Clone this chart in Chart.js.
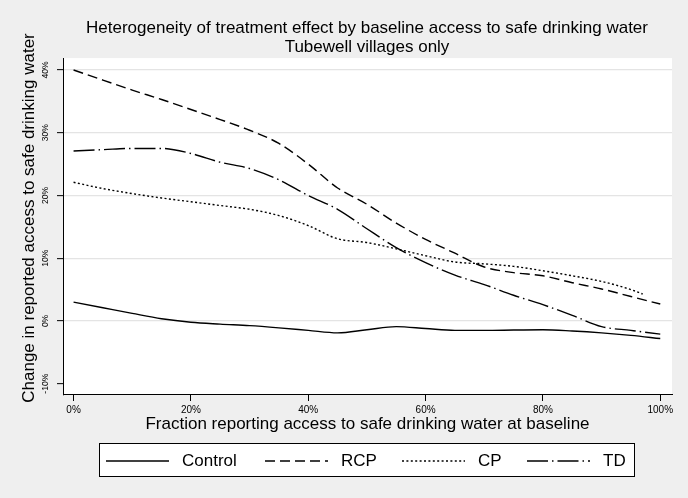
<!DOCTYPE html>
<html>
<head>
<meta charset="utf-8">
<script src="https://cdn.jsdelivr.net/npm/chart.js@4.4.0/dist/chart.umd.min.js"></script>
<style>
  html, body { margin: 0; padding: 0; background: #efefef; }
  #wrap { width: 688px; height: 498px; }
</style>
</head>
<body>
<div id="wrap"><canvas id="grafico" width="688" height="498"></canvas></div>
<script>
// fraction reporting safe access at baseline (%)
const fracBaseline = [0, 5, 10, 15, 20, 25, 30, 35, 40, 45, 50, 55, 60, 65, 70, 75, 80, 85, 90, 95, 100];
const fracCP = [0, 5, 10, 15, 20, 25, 30, 35, 40, 45, 50, 55, 60, 65, 70, 75, 80, 85, 90, 95, 97];

// change in reported access (%)
const controlVals = [3.0, 2.1, 1.2, 0.35, -0.2, -0.5, -0.75, -1.1, -1.5, -1.9, -1.4, -0.9, -1.2, -1.5, -1.5, -1.45, -1.4, -1.6, -1.9, -2.3, -2.8];
const rcpVals = [40.0, 38.4, 36.8, 35.3, 33.7, 32.1, 30.4, 28.3, 25.0, 21.2, 18.6, 15.6, 13.0, 10.8, 8.6, 7.7, 7.2, 6.1, 5.1, 3.9, 2.7];
const cpVals = [22.1, 21.1, 20.3, 19.6, 19.0, 18.4, 17.8, 16.8, 15.2, 13.1, 12.5, 11.5, 10.4, 9.4, 9.1, 8.7, 8.0, 7.2, 6.3, 5.0, 4.3];
const tdVals = [27.1, 27.3, 27.5, 27.5, 26.7, 25.3, 24.3, 22.5, 20.0, 17.8, 14.7, 11.7, 9.3, 7.3, 5.8, 4.1, 2.6, 0.9, -0.9, -1.5, -2.1];

const seriesNames = ['Control', 'RCP', 'CP', 'TD'];
const xTicks = [0, 20, 40, 60, 80, 100];
const yTicks = [-10, 0, 10, 20, 30, 40];

const FUENTE = '"Liberation Sans", Arial, Helvetica, sans-serif';
const toPoints = (xs, ys) => xs.map((x, i) => ({ x: x, y: ys[i] }));

const estilos = [
  { dash: [] },
  { dash: [10, 5] },
  { dash: [2, 2.4] },
  { dash: [21, 4, 1.5, 4] }
];

const datasets = [controlVals, rcpVals, cpVals, tdVals].map((vals, i) => ({
  label: seriesNames[i],
  data: toPoints(i === 2 ? fracCP : fracBaseline, vals),
  borderColor: '#000',
  borderWidth: 1.4,
  borderDash: estilos[i].dash,
  pointRadius: 0,
  fill: false,
  cubicInterpolationMode: 'monotone'
}));

// fondo gris + region blanca del grafico
const fondo = {
  id: 'fondo',
  beforeDraw(chart) {
    const { ctx, chartArea } = chart;
    ctx.save();
    ctx.fillStyle = '#efefef';
    ctx.fillRect(0, 0, chart.width, chart.height);
    ctx.fillStyle = '#fff';
    ctx.fillRect(chartArea.left, chartArea.top, chartArea.right - chartArea.left, chartArea.bottom - chartArea.top);
    ctx.restore();
  }
};

// etiquetas verticales del eje y, titulo del eje y y leyenda con recuadro
const extras = {
  id: 'extras',
  afterDraw(chart) {
    const { ctx } = chart;
    const y = chart.scales.y;
    ctx.save();
    ctx.fillStyle = '#000';
    ctx.textAlign = 'center';
    ctx.textBaseline = 'middle';

    ctx.font = '8.5px ' + FUENTE;
    y.ticks.forEach(t => {
      if (!yTicks.includes(t.value)) return;
      ctx.save();
      ctx.translate(46, y.getPixelForValue(t.value));
      ctx.rotate(-Math.PI / 2);
      ctx.fillText(t.value + '%', 0, 0);
      ctx.restore();
    });

    ctx.font = '17px ' + FUENTE;
    ctx.save();
    ctx.translate(29, 218);
    ctx.rotate(-Math.PI / 2);
    ctx.fillText('Change in reported access to safe drinking water', 0, 0);
    ctx.restore();

    // leyenda
    ctx.fillStyle = '#fff';
    ctx.fillRect(99, 443, 536, 33);
    ctx.strokeStyle = '#000';
    ctx.lineWidth = 1;
    ctx.strokeRect(99.5, 443.5, 535, 33);
    const posX = [106, 265, 402, 527];
    const cy = 461;
    chart.data.datasets.forEach((ds, i) => {
      ctx.save();
      ctx.strokeStyle = ds.borderColor;
      ctx.lineWidth = ds.borderWidth;
      ctx.setLineDash(ds.borderDash);
      ctx.beginPath();
      ctx.moveTo(posX[i], cy);
      ctx.lineTo(posX[i] + 63, cy);
      ctx.stroke();
      ctx.restore();
      ctx.fillStyle = '#000';
      ctx.textAlign = 'left';
      ctx.fillText(ds.label, posX[i] + 76, cy);
    });
    ctx.restore();
  }
};

new Chart(document.getElementById('grafico').getContext('2d'), {
  type: 'line',
  data: { datasets: datasets },
  plugins: [fondo, extras],
  options: {
    responsive: false,
    animation: false,
    layout: { padding: { left: 62, right: 16, top: 0, bottom: 0 } },
    plugins: {
      legend: { display: false },
      tooltip: { enabled: false },
      title: {
        display: true,
        text: ['Heterogeneity of treatment effect by baseline access to safe drinking water', 'Tubewell villages only'],
        color: '#000',
        font: { family: FUENTE, size: 17, weight: 'normal', lineHeight: 1.12 },
        padding: { top: 18.5, bottom: 1.5 }
      }
    },
    scales: {
      x: {
        type: 'linear',
        min: -1.8,
        max: 102,
        afterBuildTicks: s => { s.ticks = xTicks.map(v => ({ value: v })); },
        ticks: {
          callback: v => v + '%',
          color: '#000',
          font: { family: FUENTE, size: 10 },
          padding: 3,
          maxRotation: 0,
          autoSkip: false
        },
        grid: { drawOnChartArea: false, drawTicks: true, tickLength: 6, tickColor: '#000', tickWidth: 1 },
        border: { display: true, color: '#000', width: 1 },
        title: {
          display: true,
          text: 'Fraction reporting access to safe drinking water at baseline',
          color: '#000',
          font: { family: FUENTE, size: 17, lineHeight: 1.2 },
          padding: { top: 0, bottom: 63 }
        },
        afterFit: s => { s.height = 103; }
      },
      y: {
        type: 'linear',
        min: -11.8,
        max: 41.9,
        afterBuildTicks: s => { s.ticks = yTicks.map(v => ({ value: v })); },
        ticks: { display: false },
        grid: {
          color: c => (c.tick && c.tick.value === -10) ? 'rgba(0,0,0,0)' : '#e4e4e4',
          lineWidth: 1.3,
          drawTicks: true,
          tickLength: 6,
          tickColor: '#000',
          tickWidth: 1
        },
        border: { display: true, color: '#000', width: 1 },
        afterFit: s => { s.width = 1; }
      }
    }
  }
});
</script>
</body>
</html>
